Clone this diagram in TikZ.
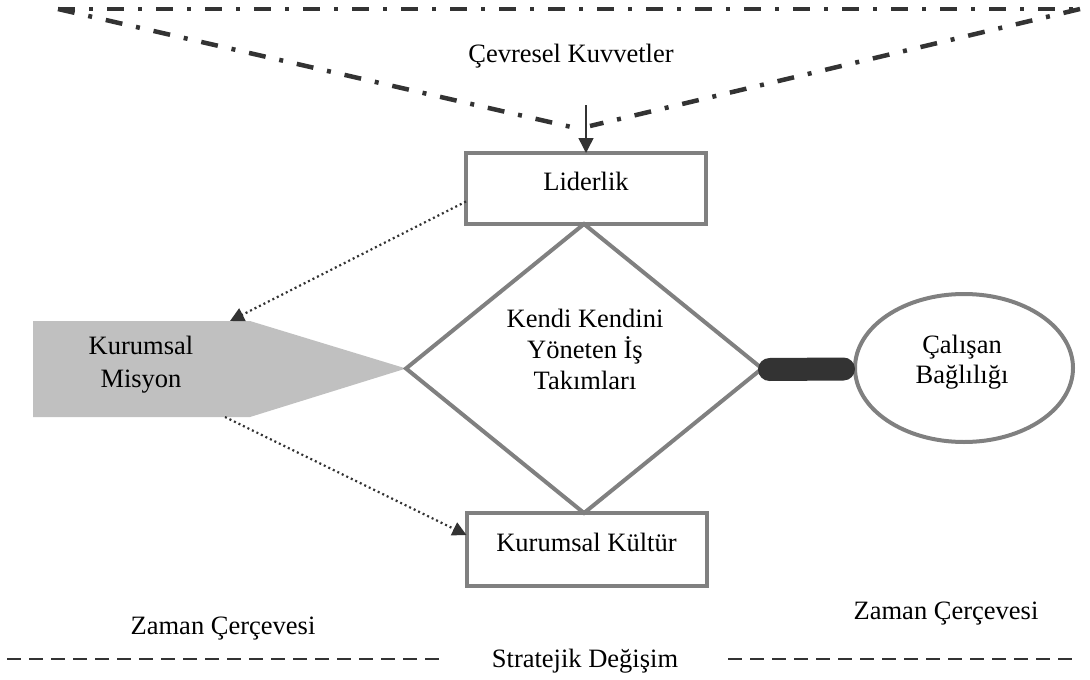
\documentclass[tikz,border=0pt]{standalone}
\usepackage{fontspec}
\setmainfont{Liberation Serif}
\usetikzlibrary{shapes.geometric,arrows.meta,calc,backgrounds}
\definecolor{framegray}{HTML}{808080}
\definecolor{fillgray}{HTML}{C0C0C0}
\definecolor{ink}{HTML}{333333}
\begin{document}
\begin{tikzpicture}[x=1pt,y=-1pt,
  every node/.style={font=\fontsize{26.5}{31}\selectfont, inner sep=0pt, outer sep=0pt, text=black},
  framebox/.style={draw=framegray, line width=4pt, fill=white, minimum width=240pt,
                   text height=18pt, text depth=13.6pt},
  forcesline/.style={draw=ink, line width=4.5pt, dash pattern=on 17pt off 14pt on 4pt off 14pt},
  timeline/.style={draw=ink, line width=2pt, dash pattern=on 14pt off 8pt},
  dotarrow/.style={draw=ink, line width=2.2pt, dash pattern=on 2pt off 3pt,
                   -{Triangle[length=14pt,width=14pt]}},
]
\useasboundingbox (0,0) rectangle (1090,680);

% environmental forces wedge
\coordinate (tl) at (58,9);
\coordinate (tr) at (1080,9);
\coordinate (apexl) at (580,129);
\coordinate (apexr) at (590,126);
\draw[forcesline] (tl) -- (tr);
\draw[forcesline] (tl) -- (apexl);
\draw[forcesline] (tr) -- (apexr);
\node[anchor=base] (forces) at (571,62) {Çevresel Kuvvetler};

% main blocks
\node[framebox, minimum height=71pt] (lead) at (586,188.5) {Liderlik};
\node[framebox, minimum height=73pt] (culture) at (586.5,549.5) {Kurumsal Kültür};
\node[diamond, draw=framegray, line width=4pt, minimum width=356pt, minimum height=289pt]
  (team) at (584,368.5) {};
\node[align=center] (teamtext) at (585,349) {Kendi Kendini\\Yöneten İş\\Takımları};

% mission pointer shape
\node[minimum width=217pt, minimum height=96pt] (mission) at (141.5,369) {};
\begin{scope}[on background layer]
  \fill[fillgray] (mission.north west) -- (mission.north east) -- (team.west)
    -- (mission.south east) -- (mission.south west) -- cycle;
\end{scope}
\node[align=center, font=\fontsize{26.5}{33}\selectfont] (missiontext) at (141,364.4) {Kurumsal\\Misyon};

% employee commitment
\node[ellipse, draw=framegray, line width=4pt, minimum width=218pt, minimum height=148pt]
  (commit) at (964,368) {};
\draw[ink, line width=23pt, line cap=round] ($(team.east)+(7.5,1)$) -- ($(commit.west)+(-11.5,1)$);
\node[align=center, font=\fontsize{26.5}{30}\selectfont] (committext) at (962,362) {Çalışan\\Bağlılığı};

% connectors
\coordinate (forcesfoot) at (586,105);
\draw[ink, line width=1.5pt, -{Triangle[length=15pt,width=15pt]}] (forcesfoot) -- (lead.north);
\draw[dotarrow] ($(lead.west)+(0,13)$) -- ($(mission.north east)+(-20,0)$);
\draw[dotarrow] ($(mission.south east)+(-25,0)$) -- ($(culture.west)+(0,-14.5)$);

% time frame and strategic change
\node[anchor=base] (timeleft) at (223,634) {Zaman Çerçevesi};
\node[anchor=base] (timeright) at (946,619) {Zaman Çerçevesi};
\node[anchor=base] (change) at (585,667) {Stratejik Değişim};
\coordinate (dl1) at (7,659);
\coordinate (dl2) at (441,659);
\coordinate (dr1) at (728,659);
\coordinate (dr2) at (1073,659);
\draw[timeline] (dl1) -- (dl2);
\draw[timeline] (dr1) -- (dr2);
\end{tikzpicture}
\end{document}
